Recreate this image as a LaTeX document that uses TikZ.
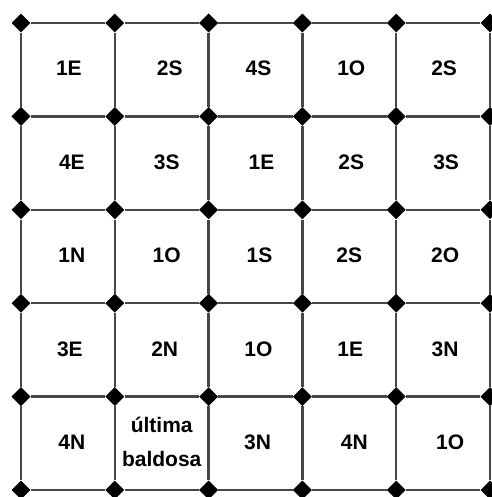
\documentclass[tikz,border=0pt]{standalone}
\usepackage{fontspec}
\setmainfont{Liberation Sans}
\usetikzlibrary{shapes.geometric}

\begin{document}
\begin{tikzpicture}[
    x=1pt, y=-1pt,
    corner/.style={diamond, fill=black, inner sep=0pt, minimum size=19pt},
    gridline/.style={draw=black!72, line width=2.4pt},
    tile/.style={font=\fontsize{21}{34}\selectfont\bfseries, inner sep=0pt, align=center}
]
\useasboundingbox[fill=white] (0,0) rectangle (491,497);
% Corner diamonds
\foreach \i in {0,...,5}
  \foreach \j in {0,...,5}
    \node[corner] (v\i\j) at ({21+93.8*\j},{23+93.4*\i}) {};
% Grid lines
\foreach \i in {0,...,5}
  \foreach \j/\k in {0/1,1/2,2/3,3/4,4/5} {
    \draw[gridline] (v\i\j) -- (v\i\k);
    \draw[gridline] (v\j\i) -- (v\k\i);
  }
% Tiles
\foreach \r/\c/\t/\dx in {1/1/1E/1, 1/2/2S/8, 1/3/4S/3, 1/4/1O/2, 1/5/2S/1,
                          2/1/4E/4, 2/2/3S/5, 2/3/1E/6, 2/4/2S/2, 2/5/3S/3,
                          3/1/1N/4, 3/2/1O/5, 3/3/1S/4, 3/4/2S/0, 3/5/2O/2,
                          4/1/3E/2, 4/2/2N/3, 4/3/1O/3, 4/4/1E/1, 4/5/3N/2,
                          5/1/4N/4, 5/3/3N/2, 5/4/4N/5, 5/5/1O/7}
  \node[tile] (t\r\c) at ({21+93.8*(\c-0.5)+\dx},{23+93.4*(\r-0.5)-1}) {\t};
\node[tile] (t52) at ({21+93.8*1.5},{23+93.4*4.5-1}) {última\\baldosa};

\end{tikzpicture}
\end{document}
